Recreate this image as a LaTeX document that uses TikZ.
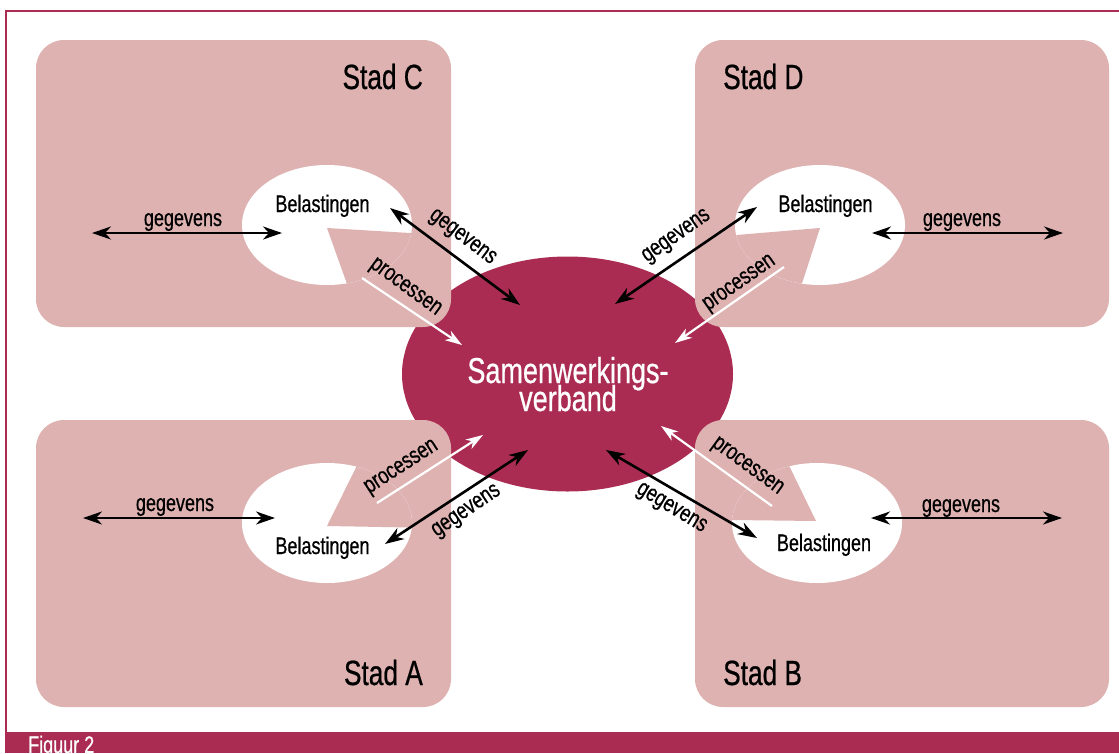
\documentclass[tikz,border=0pt]{standalone}
\usepackage{fontspec}
\setmainfont{Liberation Sans}[FakeStretch=0.75, FakeBold=0.6]
\usetikzlibrary{arrows.meta,shapes.geometric}
\definecolor{cityfill}{RGB}{223,178,178}
\definecolor{bordeaux}{RGB}{170,44,82}

\begin{document}
\begin{tikzpicture}[x=1pt,y=-1pt,
  citybox/.style={fill=cityfill, rounded corners=28pt},
  titletext/.style={font=\fontsize{35}{38}\selectfont, inner sep=0pt},
  smalltext/.style={font=\fontsize{24}{26}\selectfont, inner sep=0pt},
  bigtext/.style={font=\fontsize{36}{40}\selectfont, text=white, inner sep=0pt, anchor=base},
  tipblack/.tip={Stealth[length=19pt,width=13pt,inset=6pt]},
  tipwhite/.tip={Stealth[length=17pt,width=11pt,inset=5pt]},
  dataarrow/.style={draw=black, line width=2.6pt, tipblack-tipblack},
  procarrow/.style={draw=white, line width=2.2pt, -tipwhite},
]
\useasboundingbox (0,0) rectangle (1119,753);

% frame and caption band
\draw[bordeaux, line width=1.3pt] (1119,11) -- (6,11) -- (6,733);
\fill[bordeaux] (5,732) rectangle (1119,753);
\node[font=\fontsize{24}{26}\selectfont, text=white, inner sep=0pt, anchor=base west] (fig) at (28,753) {Figuur 2};

% central partnership
\node[ellipse, fill=bordeaux, minimum width=331pt, minimum height=235pt, inner sep=0pt] (sv) at (567.5,374) {};

% city blocks
\fill[citybox] (36,40) rectangle (451,327);
\fill[citybox] (695,40) rectangle (1109,327);
\fill[citybox] (36,420) rectangle (451,707);
\fill[citybox] (695,420) rectangle (1109,707);

% tax departments (ellipses with a cut-out wedge)
\fill[white] (327,225) ellipse [x radius=85pt, y radius=60pt];
\begin{scope}
  \clip (327,225) ellipse [x radius=85pt, y radius=60pt];
  \fill[cityfill] (327,228) -- (493,238) -- (493,340) -- (367,340) -- cycle;
\end{scope}
\fill[white] (820,225) ellipse [x radius=85pt, y radius=60pt];
\begin{scope}
  \clip (820,225) ellipse [x radius=85pt, y radius=60pt];
  \fill[cityfill] (820,228) -- (653,242) -- (653,342) -- (783,342) -- cycle;
\end{scope}
\fill[white] (327,523) ellipse [x radius=85pt, y radius=60pt];
\begin{scope}
  \clip (327,523) ellipse [x radius=85pt, y radius=60pt];
  \fill[cityfill] (327,526) -- (386,407) -- (493,407) -- (493,529) -- cycle;
\end{scope}
\fill[white] (817,523) ellipse [x radius=85pt, y radius=60pt];
\begin{scope}
  \clip (817,523) ellipse [x radius=85pt, y radius=60pt];
  \fill[cityfill] (816,521) -- (763,412) -- (650,412) -- (650,519) -- cycle;
\end{scope}

% texts
\node[bigtext] (svtop) at (568,383) {Samenwerkings-};
\node[bigtext] (svbot) at (568,411) {verband};

\node[titletext, anchor=base east] (stadC) at (423,89) {Stad C};
\node[titletext, anchor=base west] (stadD) at (723,89) {Stad D};
\node[titletext, anchor=base east] (stadA) at (423,685) {Stad A};
\node[titletext, anchor=base west] (stadB) at (723,685) {Stad B};

\node[smalltext, anchor=base] (belC) at (322.5,212) {Belastingen};
\node[smalltext, anchor=base] (belD) at (825.5,212) {Belastingen};
\node[smalltext, anchor=base] (belA) at (322.5,554) {Belastingen};
\node[smalltext, anchor=base] (belB) at (824,551) {Belastingen};

% connector end points
\coordinate (cL) at (92,233);   \coordinate (cR) at (282,233);
\coordinate (dL) at (872,233);  \coordinate (dR) at (1063,233);
\coordinate (aL) at (83,518);   \coordinate (aR) at (275,518);
\coordinate (bL) at (871,518);  \coordinate (bR) at (1062,518);

\coordinate (cg1) at (390,208);  \coordinate (cg2) at (520,305);
\coordinate (cp1) at (362,278);  \coordinate (cp2) at (462,345);
\coordinate (dg1) at (757,207);  \coordinate (dg2) at (615,304);
\coordinate (dp1) at (784,267);  \coordinate (dp2) at (675,343);
\coordinate (ap1) at (377,503);  \coordinate (ap2) at (483,435);
\coordinate (ag1) at (528,450);  \coordinate (ag2) at (385,544);
\coordinate (bg1) at (606,450);  \coordinate (bg2) at (757,538);
\coordinate (bp1) at (772,506);  \coordinate (bp2) at (661,426);

% data exchange inside each city
\draw[dataarrow] (cL) -- (cR);
\draw[dataarrow] (dL) -- (dR);
\draw[dataarrow] (aL) -- (aR);
\draw[dataarrow] (bL) -- (bR);
\node[smalltext, anchor=base] (lcg) at (183,226) {gegevens};
\node[smalltext, anchor=base] (ldg) at (962,226) {gegevens};
\node[smalltext, anchor=base] (lag) at (175,511) {gegevens};
\node[smalltext, anchor=base] (lbg) at (961,512) {gegevens};

% data exchange with the partnership
\draw[dataarrow] (cg1) -- (cg2);
\draw[dataarrow] (dg1) -- (dg2);
\draw[dataarrow] (ag1) -- (ag2);
\draw[dataarrow] (bg1) -- (bg2);
\node[smalltext, rotate=-37] (lcg2) at (462,238) {gegevens};
\node[smalltext, rotate=35] (ldg2) at (677,237) {gegevens};
\node[smalltext, rotate=34] (lag2) at (467,512) {gegevens};
\node[smalltext, rotate=-31] (lbg2) at (671,509) {gegevens};

% processes handed to the partnership
\draw[procarrow] (cp1) -- (cp2);
\draw[procarrow] (dp1) -- (dp2);
\draw[procarrow] (ap1) -- (ap2);
\draw[procarrow] (bp1) -- (bp2);
\node[smalltext, rotate=-36] (lcp) at (405,288) {processen};
\node[smalltext, rotate=35] (ldp) at (740,284) {processen};
\node[smalltext, rotate=33] (lap) at (402,468) {processen};
\node[smalltext, rotate=-36] (lbp) at (747,467) {processen};
\end{tikzpicture}
\end{document}
